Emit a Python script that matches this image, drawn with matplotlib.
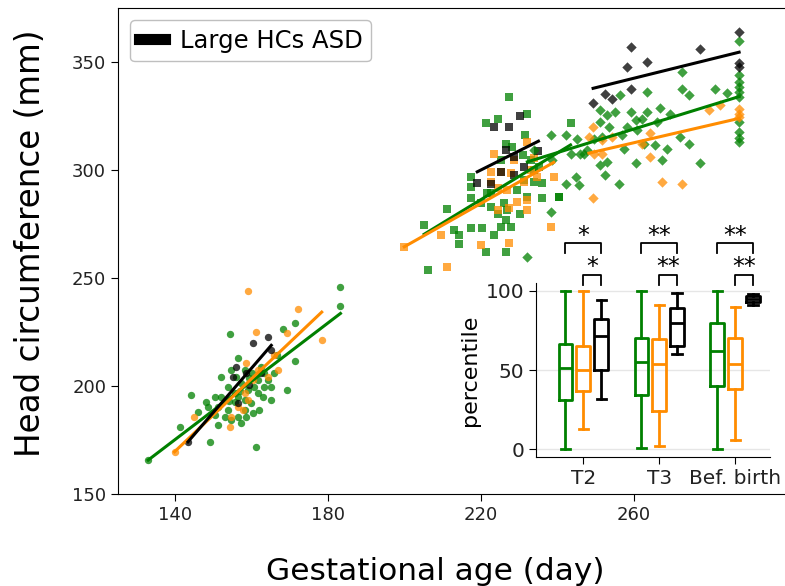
import numpy as np
import matplotlib.pyplot as plt
from matplotlib.lines import Line2D

# ---- data ----
# T2 (circles)
t2_green_day = [183.2, 183.2, 171.2, 168.1, 154.2, 171.2, 169.2, 165.1, 165.1, 144.2, 148.1, 152.0, 154.6,
                156.4, 157.2, 159.4, 161.6, 163.3, 163.3, 159.0, 161.6, 159.8, 158.1, 155.5, 153.7, 151.1,
                150.3, 148.5, 151.1, 157.2, 154.6, 149.0, 161.1, 141.1, 132.9, 165.9, 164.2, 162.0, 158.5,
                160.3, 156.4, 152.9, 152.0, 155.5, 153.7, 156.4, 158.1, 160.7, 162.9, 158.1, 155.9, 157.0,
                154.0, 160.0, 162.5, 166.5, 150.5, 146.0]
t2_green_hc = [246.0, 237.0, 229.0, 226.2, 223.9, 211.7, 198.1, 199.7, 193.5, 195.8, 192.7, 204.3, 207.4,
               212.8, 201.2, 203.5, 202.8, 205.9, 199.7, 198.1, 196.6, 192.0, 188.9, 192.7, 188.9, 190.4,
               195.1, 190.4, 181.9, 182.7, 184.3, 173.9, 171.9, 180.9, 165.7, 205.9, 202.8, 188.9, 185.8,
               187.3, 185.8, 185.8, 195.1, 196.6, 199.7, 195.1, 193.5, 199.7, 195.1, 207.4, 204.3, 197.5,
               193.0, 206.0, 209.0, 214.5, 186.5, 188.0]
t2_orange_day = [159.1, 172.0, 178.3, 161.1, 169.2, 166.8, 164.2, 161.6, 158.1, 156.4, 154.6, 154.2, 145.0,
                 139.8, 165.9, 158.5, 159.0, 157.7, 160.3]
t2_orange_hc = [244.0, 235.6, 221.3, 224.8, 224.7, 207.4, 204.3, 207.4, 196.6, 190.4, 185.8, 181.2, 185.8,
                169.6, 214.3, 210.5, 193.5, 188.9, 202.8]
t2_black_day = [160.3, 164.2, 165.1, 155.9, 155.1, 158.5, 159.4, 156.4, 143.3, 162.5]
t2_black_hc = [219.8, 222.8, 216.7, 209.0, 204.3, 205.9, 200.4, 192.0, 174.2, 205.9]

# T3 (squares)
t3_green_day = [224.3, 221.2, 232.1, 243.4, 231.6, 226.4, 228.2, 217.3, 217.3, 217.3, 222.5, 219.9, 211.2,
                205.1, 212.9, 214.2, 214.2, 217.3, 220.3, 223.4, 225.1, 226.4, 227.7, 221.2, 226.4, 206.0,
                233.8, 236.0, 240.4, 231.2, 229.5, 226.0, 222.5, 224.3, 230.3, 226.9, 232.1, 233.8, 233.0,
                235.1, 231.0, 225.1, 221.6, 227.2, 236.0, 240.3]
t3_green_hc = [323.9, 321.6, 325.9, 321.6, 316.2, 312.3, 310.8, 296.9, 292.3, 286.9, 289.2, 284.6, 281.8,
               274.5, 272.2, 269.9, 266.0, 273.0, 273.0, 269.9, 273.8, 276.9, 273.8, 262.2, 262.2, 253.7,
               294.6, 286.9, 287.7, 295.4, 290.7, 284.6, 283.0, 279.9, 279.9, 281.5, 287.7, 300.0, 304.6,
               301.5, 307.0, 304.6, 289.2, 333.8, 294.0, 287.6]
t3_orange_day = [199.9, 209.5, 219.9, 227.3, 211.2, 223.4, 232.1, 239.0, 238.2, 232.1, 227.3, 229.5, 232.1,
                 222.5, 225.1, 227.7, 222.5, 224.3, 228.6, 233.8, 233.0, 226.9, 231.2, 234.7, 224.3]
t3_orange_hc = [264.5, 269.9, 265.3, 266.1, 255.2, 307.7, 313.1, 296.9, 273.8, 281.5, 282.3, 285.4, 286.1,
                294.6, 299.2, 298.5, 299.2, 291.5, 304.6, 305.4, 300.0, 290.7, 294.6, 296.9, 281.5]
t3_black_day = [230.3, 223.4, 227.3, 226.4, 228.6, 231.2, 228.5, 225.1, 222.5, 219.0, 235.0]
t3_black_hc = [325.0, 320.1, 320.1, 309.3, 306.2, 301.5, 297.7, 299.2, 293.8, 293.9, 309.0]

# before birth (diamonds)
birth_green_day = [287.5, 287.5, 287.5, 287.5, 287.5, 287.5, 287.5, 287.5, 287.5, 287.5, 272.5, 281.2,
                   284.3, 272.5, 274.3, 263.4, 256.4, 251.2, 253.0, 255.1, 259.1, 263.4, 266.9, 269.5,
                   262.1, 260.4, 266.0, 258.2, 260.8, 251.2, 253.4, 242.1, 245.1, 249.5, 251.7, 243.4,
                   246.9, 257.3, 262.5, 265.6, 268.6, 272.1, 274.3, 251.2, 253.0, 252.5, 244.7, 242.1,
                   245.6, 256.0, 260.4, 267.3, 277.3, 256.9, 238.2, 233.8, 238.6, 238.2, 232.1, 247.8, 246.0]
birth_green_hc = [359.9, 344.0, 340.9, 338.6, 336.2, 333.9, 322.4, 317.7, 314.7, 313.1, 345.5, 337.8,
                  335.5, 337.8, 334.7, 336.3, 334.7, 327.8, 325.5, 327.0, 327.0, 327.0, 329.0, 326.2,
                  323.9, 323.1, 322.4, 320.1, 318.5, 322.4, 320.1, 316.2, 314.6, 314.6, 315.4, 307.7,
                  307.7, 310.0, 312.3, 311.6, 310.0, 315.4, 312.0, 302.3, 303.8, 297.7, 296.9, 293.8,
                  293.0, 293.8, 303.1, 304.6, 303.1, 316.2, 316.2, 309.3, 304.6, 280.7, 259.9, 309.3, 307.7]
birth_orange_day = [287.5, 287.5, 287.5, 282.6, 279.5, 249.3, 248.2, 251.7, 254.3, 249.5, 251.7, 262.1,
                    264.3, 264.3, 267.3, 272.5, 249.3]
birth_orange_hc = [328.5, 326.2, 324.7, 330.1, 327.8, 320.1, 315.4, 313.9, 315.4, 307.7, 307.7, 312.3,
                   317.0, 306.2, 294.6, 293.8, 286.9]
birth_black_day = [287.5, 287.5, 287.5, 259.3, 277.3, 258.2, 263.4, 259.3, 249.3, 252.4, 254.3]
birth_black_hc = [364.0, 349.4, 347.8, 357.1, 355.9, 347.8, 350.2, 337.8, 331.3, 335.2, 332.9]

# regression lines (slope, intercept) for green, orange, black
t2_fit_slope = [1.35, 1.68, 2.05]
t2_fit_icpt = [-13.7, -65.3, -119.6]
t3_fit_slope = [1.08, 1.00, 0.886]
t3_fit_icpt = [48.8, 64.6, 105.2]
birth_fit_slope = [0.546, 0.41, 0.438]
birth_fit_icpt = [177.1, 206.1, 228.7]

# inset percentiles (T2, T3, Bef. birth)
periods = ["T2", "T3", "Bef. birth"]
green_med = [51, 55, 62]
green_q1 = [31, 34, 40]
green_q3 = [66.5, 70, 79.5]
green_lo = [0, 1, 0]
green_hi = [100, 100, 100]
orange_med = [50, 54, 54]
orange_q1 = [37, 24, 38]
orange_q3 = [65, 69.5, 70]
orange_lo = [12.5, 2, 6]
orange_hi = [100, 91, 90]
black_med = [71.5, 80, 95]
black_q1 = [50, 65.5, 93]
black_q3 = [82, 89, 97]
black_lo = [31.5, 60, 91]
black_hi = [94, 99, 98]
sig_outer = ["*", "**", "**"]
sig_inner = ["*", "**", "**"]

GREEN = "green"
ORANGE = "darkorange"
BLACK = "black"
colors = [GREEN, ORANGE, BLACK]

fig = plt.figure(figsize=(7.85, 5.86), dpi=100)
ax = fig.add_axes([0.1503, 0.157, 0.856, 0.829])

series = [
    ("o", [(t2_green_day, t2_green_hc), (t2_orange_day, t2_orange_hc), (t2_black_day, t2_black_hc)],
     t2_fit_slope, t2_fit_icpt),
    ("s", [(t3_green_day, t3_green_hc), (t3_orange_day, t3_orange_hc), (t3_black_day, t3_black_hc)],
     t3_fit_slope, t3_fit_icpt),
    ("D", [(birth_green_day, birth_green_hc), (birth_orange_day, birth_orange_hc),
           (birth_black_day, birth_black_hc)], birth_fit_slope, birth_fit_icpt),
]

for marker, groups, slopes, icpts in series:
    for (d, h), c in zip(groups, colors):
        ax.scatter(d, h, s=28, marker=marker, color=c, alpha=0.75, linewidths=0, zorder=2)
    for (d, h), c, m, b in zip(groups, colors, slopes, icpts):
        xs = np.array([min(d), max(d)])
        ax.plot(xs, m * xs + b, color=c, lw=2.2, zorder=3)

ax.set_xlim(125, 300.8)
ax.set_ylim(150, 375)
ax.set_xticks([140, 180, 220, 260])
ax.set_yticks([150, 200, 250, 300, 350])
ax.tick_params(labelsize=13, length=5, labelcolor="#222222")
ax.set_xlabel("Gestational age (day)", fontsize=22.5, labelpad=24, x=0.472)
ax.set_ylabel("Head circumference (mm)", fontsize=23.5, labelpad=18, y=0.516)

handle = Line2D([], [], color=BLACK, lw=8)
ax.legend([handle], ["Large HCs ASD"], loc="upper left", fontsize=17.5,
          handlelength=1.1, borderpad=0.35, handletextpad=0.6, edgecolor="#b0b0b0")

# ---- inset boxplot ----
ins = fig.add_axes([0.683, 0.220, 0.298, 0.297], facecolor="none")
offsets = [-0.235, 0.0, 0.235]
pos = np.arange(1, len(periods) + 1)
box_data = [
    (green_med, green_q1, green_q3, green_lo, green_hi),
    (orange_med, orange_q1, orange_q3, orange_lo, orange_hi),
    (black_med, black_q1, black_q3, black_lo, black_hi),
]
for (med, q1, q3, lo, hi), off, c in zip(box_data, offsets, colors):
    stats = [dict(med=med[i], q1=q1[i], q3=q3[i], whislo=lo[i], whishi=hi[i], fliers=[])
             for i in range(len(periods))]
    lp = dict(color=c, lw=2)
    ins.bxp(stats, positions=pos + off, widths=0.18, capwidths=0.12, showfliers=False,
            boxprops=lp, whiskerprops=lp, capprops=lp, medianprops=lp, manage_ticks=False)

ins.set_xlim(0.38, 3.46)
ins.set_ylim(-5, 105)
ins.set_xticks(pos)
ins.set_xticklabels(periods)
ins.set_yticks([0, 50, 100])
ins.tick_params(labelsize=14.5, length=5, labelcolor="#222222")
ins.set_ylabel("percentile", fontsize=16, labelpad=4)
ins.grid(axis="y", color="#e6e6e6", lw=1)
ins.set_axisbelow(True)
for side in ["top", "right"]:
    ins.spines[side].set_visible(False)

# significance brackets
for p, so, si in zip(pos, sig_outer, sig_inner):
    x0, x1, x2 = p + offsets[0], p + offsets[1], p + offsets[2]
    ins.plot([x0, x0, x2, x2], [124, 130.4, 130.4, 124], color="k", lw=1.3, clip_on=False)
    ins.text((x0 + x2) / 2, 134.5, so, ha="center", va="center", fontsize=17, clip_on=False)
    ins.plot([x1, x1, x2, x2], [104, 110, 110, 104], color="k", lw=1.3, clip_on=False)
    ins.text((x1 + x2) / 2, 115, si, ha="center", va="center", fontsize=17, clip_on=False)

fig.savefig("out.png", dpi=100)
